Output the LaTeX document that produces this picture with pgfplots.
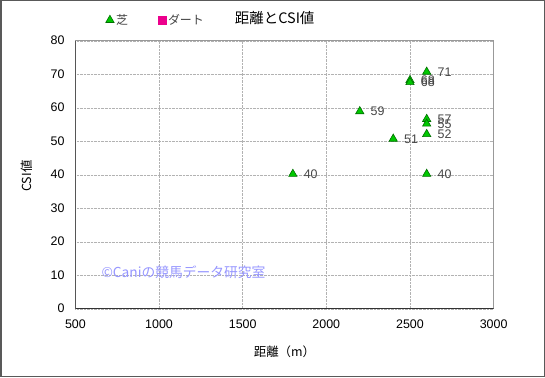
\documentclass[border=0pt]{standalone}
\usepackage{fontspec}
\setmainfont{Liberation Sans}
\newfontfamily\cjk{Noto Sans CJK JP}
\usepackage{pgfplots}
\pgfplotsset{compat=1.18}
\definecolor{mkfill}{RGB}{0,200,0}
\definecolor{mkdraw}{RGB}{0,110,0}
\definecolor{wm}{RGB}{150,150,255}
\definecolor{lbl}{RGB}{70,70,70}
\begin{document}
\fontsize{11}{13}\selectfont
\begin{tikzpicture}[x=1bp,y=1bp]
\draw[fill=white, draw=gray!70!black, line width=1.5bp] (0.75,0.75) rectangle (544.25,376.25);
\begin{axis}[at={(75.4bp,68.3bp)}, anchor=south west, scale only axis,
  width=418.2bp, height=268bp,
  xmin=500, xmax=3000, ymin=0, ymax=80,
  xtick={500,1000,...,3000}, ytick={0,10,...,80},
  grid=major, grid style={densely dotted, gray!60},
  axis line style={gray!80, line width=0.8bp},
  tick style={draw=none},
  /pgf/number format/assume math mode=true,
  /pgf/number format/1000 sep={},
  tick label style={font=\fontsize{12.5}{14}\selectfont},
  yticklabel style={xshift=-7bp},
  xticklabel style={yshift=-7bp},
  xlabel={\cjk 距離（m）},
  ylabel={\cjk CSI値},
  label style={font=\fontsize{12.5}{14}\selectfont},
  xlabel style={at={(axis description cs:0.5,-0.16)}, anchor=center},
  ylabel style={at={(axis description cs:-0.116,0.495)}, anchor=center},
  title={\cjk 距離とCSI値},
  title style={at={(axis description cs:0.4766,1.062)}, anchor=center, font=\fontsize{14.5}{16}\selectfont},
  legend style={at={(axis description cs:0.065,1.077)}, anchor=west, draw=none, fill=none,
    font=\cjk\fontsize{12}{14}\selectfont, text=lbl,
    /tikz/every even column/.append style={column sep=28bp}},
  legend columns=2,
  legend cell align=left,
]
\addplot[only marks, mark=triangle*, mark size=4.8bp,
  mark options={fill=mkfill, draw=mkdraw, line width=0.6bp},
  nodes near coords, point meta=explicit symbolic,
  nodes near coords style={anchor=west, xshift=7bp, text=lbl, font=\fontsize{12.5}{14}\selectfont}]
  table[meta=l] {
x y l
1800 40.2 40
2200 58.9 59
2400 50.7 51
2500 68.2 68
2500 67.6 68
2600 70.7 71
2600 56.6 57
2600 55.2 55
2600 52.1 52
2600 40.2 40
};
\addlegendentry{芝}
\addlegendimage{only marks, mark=square*, mark size=4bp, mark options={fill=magenta, draw=magenta}}
\addlegendentry{ダート}
\draw[gray!40!black, line width=0.9bp] (rel axis cs:0,1) -- (rel axis cs:0,0) -- (rel axis cs:1,0);
\node[anchor=west, text=wm, font=\cjk\fontsize{13.8}{15}\selectfont, inner sep=0pt] at (axis cs:655,11) {©Caniの競馬データ研究室};
\end{axis}
\end{tikzpicture}
\end{document}
